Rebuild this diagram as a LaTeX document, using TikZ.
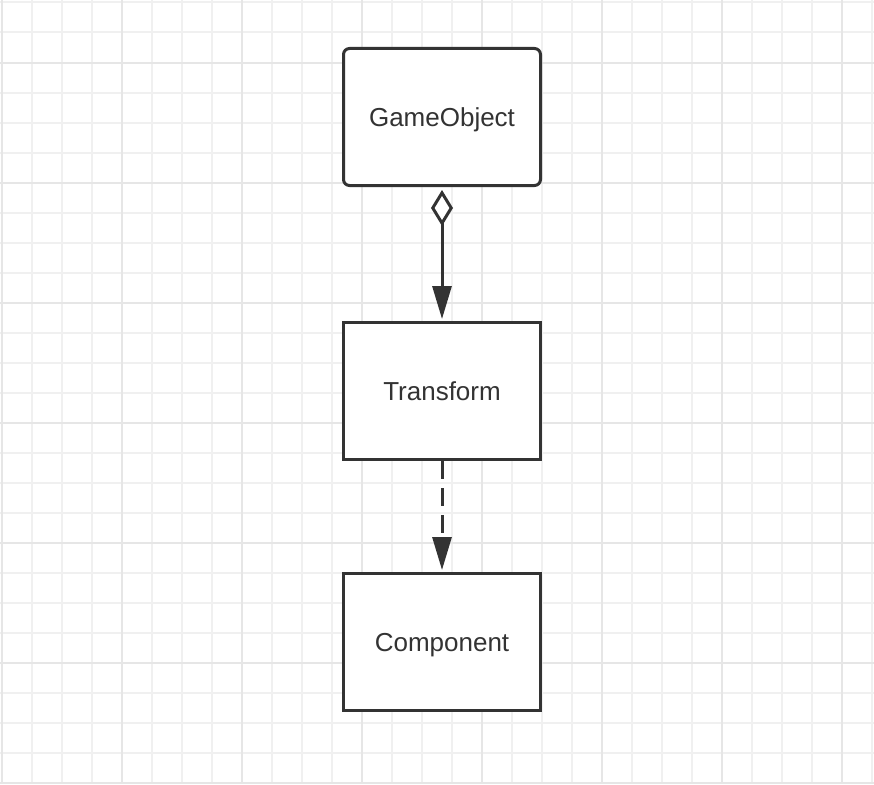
\documentclass[tikz,border=0pt]{standalone}
\usepackage{fontspec}
\setmainfont{Liberation Sans}
\usetikzlibrary{arrows.meta}
\definecolor{ink}{HTML}{333333}
\definecolor{gridlight}{HTML}{F0F0F0}
\definecolor{griddark}{HTML}{E6E6E6}
\tikzset{
  classbox/.style={draw=ink, line width=3pt, fill=white, minimum width=197pt, minimum height=137pt,
    inner sep=0pt, text height=18.6pt, text depth=0pt, font=\fontsize{26}{30}\selectfont, text=ink},
  rbox/.style={classbox, rounded corners=6pt},
  conn/.style={draw=ink, line width=3pt},
}
\begin{document}
\begin{tikzpicture}[x=1pt, y=-1pt]
\useasboundingbox (0,0) rectangle (874,784);
\fill[white] (0,0) rectangle (874,784);
% grid
\foreach \k in {0,...,29} {
  \draw[gridlight, line width=2pt] ({1.5+30*\k},0) -- ({1.5+30*\k},784);
}
\foreach \k in {0,...,26} {
  \draw[gridlight, line width=2pt] (0,{2.5+30*\k}) -- (874,{2.5+30*\k});
}
\foreach \k in {0,...,7} {
  \draw[griddark, line width=2pt] ({1.5+120*\k},0) -- ({1.5+120*\k},784);
}
\foreach \k in {0,...,6} {
  \draw[griddark, line width=2pt] (0,{62.5+120*\k}) -- (874,{62.5+120*\k});
}
% nodes
\node[rbox] (go) at (442,117) {GameObject};
\node[classbox] (tr) at (442,391) {Transform};
\node[classbox] (co) at (442,642) {Component};
% connectors
\draw[conn, {Diamond[open, fill=white, length=36pt, width=22pt]}-{Triangle[length=33pt, width=19pt]},
  shorten <=3pt, shorten >=2pt] (go.south) -- (tr.north);
\draw[conn, dash pattern=on 18pt off 9pt, -{Triangle[length=33pt, width=19pt]},
  shorten >=2pt] (tr.south) -- (co.north);
\end{tikzpicture}
\end{document}
